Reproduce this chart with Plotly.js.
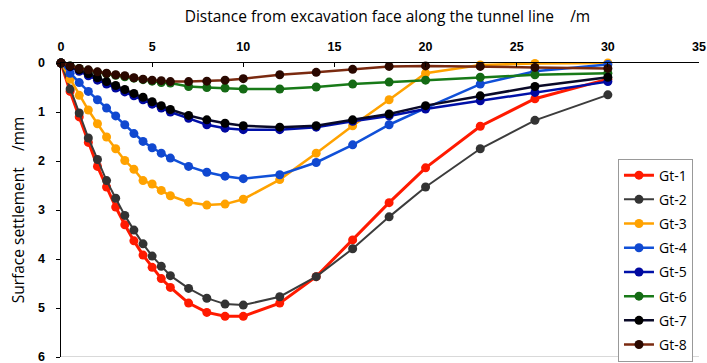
<!DOCTYPE html>
<html>
<head>
<meta charset="utf-8">
<script src="https://cdn.plot.ly/plotly-3.0.1.min.js"></script>
<style>html,body{margin:0;padding:0;background:#fff;}#chart{width:707px;height:363px;}</style>
</head>
<body>
<div id="chart"></div>
<script>
const distance = [0,0.5,1,1.5,2,2.5,3,3.5,4,4.5,5,5.5,6,7,8,9,10,12,14,16,18,20,23,26,30];
const seriesNames = ["Gt-1","Gt-2","Gt-3","Gt-4","Gt-5","Gt-6","Gt-7","Gt-8"];
const gt1 = [0,0.58,1.10,1.62,2.11,2.53,2.94,3.30,3.63,3.92,4.17,4.40,4.58,4.90,5.09,5.17,5.17,4.90,4.36,3.61,2.85,2.14,1.29,0.73,0.33];
const gt2 = [0,0.53,1.02,1.53,1.97,2.40,2.76,3.11,3.41,3.69,3.94,4.15,4.34,4.60,4.80,4.92,4.94,4.77,4.36,3.79,3.14,2.53,1.75,1.17,0.65];
const gt3 = [0,0.33,0.66,0.96,1.24,1.51,1.75,1.99,2.17,2.40,2.47,2.60,2.71,2.84,2.90,2.88,2.78,2.38,1.84,1.28,0.75,0.21,0.04,0.01,0.0];
const gt4 = [0,0.21,0.40,0.58,0.75,0.92,1.08,1.26,1.44,1.60,1.73,1.84,1.94,2.11,2.23,2.31,2.36,2.28,2.03,1.67,1.26,0.92,0.43,0.17,0.03];
const gt5 = [0,0.08,0.17,0.26,0.35,0.43,0.51,0.59,0.67,0.75,0.84,0.92,1.00,1.13,1.26,1.33,1.36,1.36,1.31,1.19,1.08,0.94,0.77,0.60,0.38];
const gt6 = [0,0.06,0.11,0.15,0.19,0.22,0.25,0.28,0.31,0.34,0.37,0.40,0.41,0.48,0.50,0.51,0.53,0.53,0.49,0.43,0.39,0.35,0.29,0.24,0.21];
const gt7 = [0,0.07,0.14,0.22,0.30,0.38,0.46,0.54,0.62,0.70,0.79,0.87,0.95,1.07,1.16,1.23,1.28,1.31,1.28,1.16,1.04,0.87,0.67,0.48,0.29];
const gt8 = [0,0.06,0.11,0.14,0.18,0.21,0.24,0.26,0.30,0.33,0.35,0.36,0.38,0.38,0.37,0.35,0.32,0.24,0.19,0.13,0.07,0.06,0.07,0.09,0.11];
const yTickVals = [0,1,2,3,4,5,6];
const xTickVals = [0,5,10,15,20,25,30,35];

const values = [gt1,gt2,gt3,gt4,gt5,gt6,gt7,gt8];
const lineColors = ["#ff1a00","#3c3c3c","#ffa200","#1050d8","#0010a8","#187a18","#0a0a28","#7a2a10"];
const markerColors = ["#ff1a00","#333333","#ffa200","#1048d0","#0008a0","#146a14","#000000","#2a0800"];
const lineWidths = [3,2,2.5,2.5,2.5,2.5,2.5,2.5];

const traces = values.map((v,i)=>({
  x: distance, y: v, name: seriesNames[i], type: "scatter", mode: "lines+markers",
  line: {color: lineColors[i], width: lineWidths[i]},
  marker: {color: markerColors[i], size: 9},
  legendgroup: "g"+i, cliponaxis: false
}));

const layout = {
  width: 707, height: 363,
  margin: {l: 61, r: 8, t: 63, b: 6, autoexpand: false},
  paper_bgcolor: "#fff", plot_bgcolor: "#fff",
  font: {family: "Open Sans, sans-serif", color: "#000"},
  title: {text: "Distance from excavation face along the tunnel line    /m", font: {size: 15.5, color: "#000"}, x: 0.548, xanchor: "center", y: 0.955, yanchor: "middle"},
  xaxis: {side: "top", range: [0,35], tickvals: xTickVals, ticktext: xTickVals.map(String),
    showgrid: false, zeroline: false, showline: true, linecolor: "#000", linewidth: 1.5,
    ticks: "inside", ticklen: 4, tickcolor: "#000", ticklabelstandoff: 6, ticklabeloverflow: "allow",
    tickfont: {size: 12.5, family: "Liberation Sans, Arial, sans-serif", weight: "bold"}},
  yaxis: {range: [6,0], tickvals: yTickVals, ticktext: yTickVals.map(String),
    showgrid: false, zeroline: false, showline: true, linecolor: "#000", linewidth: 1.5,
    ticks: "outside", ticklen: 4, tickcolor: "#000", ticklabelstandoff: 8, ticklabeloverflow: "allow",
    tickfont: {size: 12.5, family: "Liberation Sans, Arial, sans-serif", weight: "bold"}},
  legend: {x: 0.873, y: 0.675, xanchor: "left", yanchor: "top", bgcolor: "#fff",
    bordercolor: "#999", borderwidth: 1, font: {size: 14}, traceorder: "grouped", tracegroupgap: 3},
  shapes: [{type: "line", xref: "paper", x0: 0, x1: 1, yref: "y", y0: 6, y1: 6, line: {color: "#cccccc", width: 1.5}}],
  showlegend: true
};
layout.yaxis.title = {text: "Surface settlement    /mm", font: {size: 15.5}, standoff: 9};
Plotly.newPlot("chart", traces, layout, {displayModeBar: false, staticPlot: true});
</script>
</body>
</html>
